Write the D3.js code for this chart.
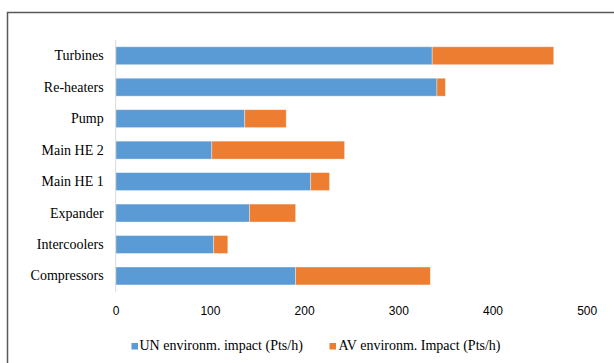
<!DOCTYPE html>
<html>
<head>
<meta charset="utf-8">
<script src="https://cdn.jsdelivr.net/npm/d3@7"></script>
<style>
  html, body { margin: 0; padding: 0; background: #fff; }
  svg { display: block; }
</style>
</head>
<body>
<svg id="chart" width="614" height="363"></svg>
<script>
// Components, listed top to bottom
const categories = ["Turbines", "Re-heaters", "Pump", "Main HE 2", "Main HE 1", "Expander", "Intercoolers", "Compressors"];
// Unavoidable environmental impact (Pts/h)
const unImpact = [336, 341, 137, 102, 207, 142, 104, 191];
// Avoidable environmental impact (Pts/h)
const avImpact = [129, 9, 44, 141, 20, 49, 15, 143];
const xTicks = [0, 100, 200, 300, 400, 500];
const seriesNames = ["UN environm. impact (Pts/h)", "AV environm. Impact (Pts/h)"];
const seriesColors = ["#5b9bd5", "#ed7d31"];

const svg = d3.select("#chart");

// Outer frame
svg.append("rect")
  .attr("x", 7.5).attr("y", 12.5)
  .attr("width", 700).attr("height", 400)
  .attr("fill", "none")
  .attr("stroke", "#595959")
  .attr("stroke-width", 1.5);

const plot = { left: 115.7, right: 586.7, top: 40, bottom: 291.7 };

const x = d3.scaleLinear().domain([0, 500]).range([plot.left, plot.right]);
const y = d3.scaleBand().domain(categories).range([plot.top, plot.bottom]).paddingInner(0.43).paddingOuter(0.215);

const rows = categories.map((c, i) => ({ cat: c, un: unImpact[i], av: avImpact[i] }));
const stack = d3.stack().keys(["un", "av"])(rows);

svg.append("g")
  .selectAll("g")
  .data(stack)
  .join("g")
  .attr("fill", (d, i) => seriesColors[i])
  .selectAll("rect")
  .data(d => d)
  .join("rect")
  .attr("x", d => x(d[0]))
  .attr("y", d => y(d.data.cat))
  .attr("width", d => x(d[1]) - x(d[0]))
  .attr("height", y.bandwidth())
  .attr("stroke", "rgba(255,255,255,0.45)")
  .attr("stroke-width", 0.8);

// Category axis line
svg.append("line")
  .attr("x1", plot.left).attr("x2", plot.left)
  .attr("y1", plot.top).attr("y2", plot.bottom)
  .attr("stroke", "#d9d9d9")
  .attr("stroke-width", 1);

// Category labels
const yAxis = d3.axisLeft(y).tickSize(0).tickPadding(12);
const yg = svg.append("g").attr("transform", `translate(${plot.left},0)`).call(yAxis);
yg.select(".domain").remove();
yg.selectAll("text")
  .attr("font-family", "'Liberation Serif', 'Times New Roman', serif")
  .attr("font-size", 14)
  .attr("fill", "#000");

// Value axis labels
const xAxis = d3.axisBottom(x).tickValues(xTicks).tickSize(0).tickPadding(0);
const xg = svg.append("g").attr("transform", `translate(0,${306})`).call(xAxis);
xg.select(".domain").remove();
xg.selectAll("text")
  .attr("font-family", "'Liberation Sans', Arial, sans-serif")
  .attr("font-size", 12)
  .attr("fill", "#000");

// Legend
const legendItems = [
  { name: seriesNames[0], color: seriesColors[0], sx: 131.5, tx: 139.5 },
  { name: seriesNames[1], color: seriesColors[1], sx: 329.5, tx: 338.5 }
];
const lg = svg.append("g");
legendItems.forEach(it => {
  lg.append("rect")
    .attr("x", it.sx).attr("y", 343)
    .attr("width", 6.5).attr("height", 6.5)
    .attr("fill", it.color);
  lg.append("text")
    .attr("x", it.tx).attr("y", 350)
    .attr("font-family", "'Liberation Serif', 'Times New Roman', serif")
    .attr("font-size", 14)
    .attr("fill", "#000")
    .text(it.name);
});
</script>
</body>
</html>
